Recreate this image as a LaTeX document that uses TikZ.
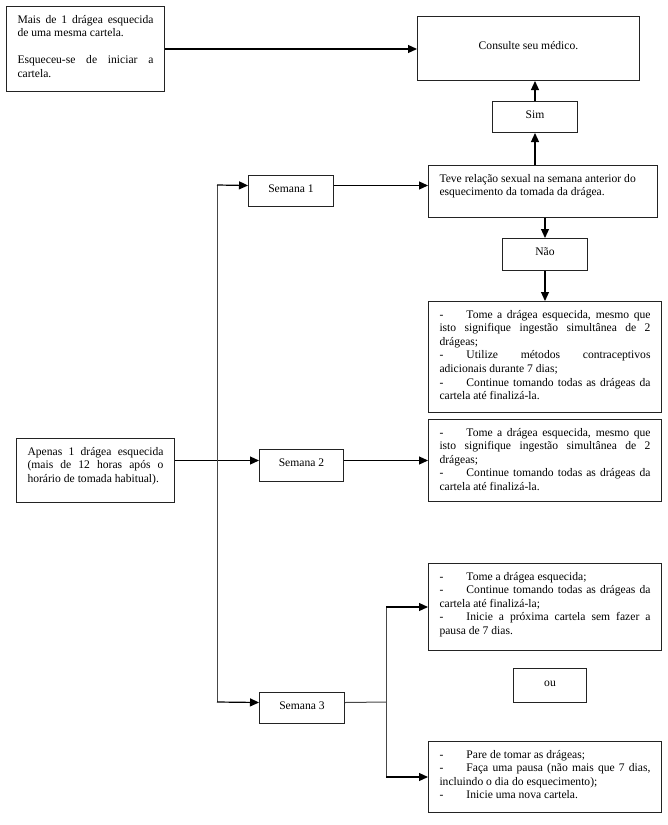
\documentclass[tikz,border=0pt]{standalone}
\usepackage{fontspec}
\setmainfont{Liberation Serif}
\usetikzlibrary{positioning,arrows.meta,calc}
\definecolor{ink}{RGB}{35,35,35}
\definecolor{wireg}{RGB}{70,70,70}
% top-aligned text block of a box: width, height, text
\newcommand{\panel}[3]{\parbox[c][#2pt][t]{#1pt}{\strut #3}}
\newcommand{\itemdash}{\makebox[27pt][l]{-}}

\begin{document}
\begin{tikzpicture}[
  x=1pt, y=-1pt,
  font=\fontsize{11.6}{13.6}\selectfont,
  note/.style={draw=ink, line width=1pt, anchor=north west, inner xsep=11pt, inner ysep=7pt},
  tag/.style={draw=ink, line width=1pt, anchor=north west, inner sep=0pt, text height=8pt, text depth=6pt},
  arr/.style={-{Triangle[length=9pt,width=8pt]}, line width=1.2pt, black},
  wire/.style={line width=1pt, wireg},
]
\useasboundingbox (0,0) rectangle (668,825);

% ---- left column ----
\node[note] (MAIS) at (6,6) {\panel{136}{71}{%
  Mais de 1 drágea esquecida\linebreak de uma mesma cartela.\par
  \strut\par
  Esqueceu-se de iniciar a\linebreak cartela.}};

\node[note] (APENAS) at (16,438) {\panel{136}{50}{%
  Apenas 1 drágea esquecida\linebreak (mais de 12 horas após o\linebreak horário de tomada habitual).}};

% ---- the three weeks ----
\node[tag, minimum width=85pt, minimum height=31pt] (SEM1) at (248,175) {Semana 1};
\node[tag, minimum width=84pt, minimum height=32pt] (SEM2) at (259,449) {Semana 2};
\node[tag, minimum width=85pt, minimum height=31pt] (SEM3) at (259,692) {Semana 3};

% ---- week 1 branch ----
\node[tag, minimum width=222pt, minimum height=64pt] (MEDICO) at (417,16) {Consulte seu médico.};
\node[tag, minimum width=85pt, minimum height=31pt] (SIM) at (492,101) {Sim};
\node[note] (TEVE) at (428,165) {\panel{207}{38}{\raggedright
  Teve relação sexual na semana anterior do esquecimento da tomada da drágea.}};
\node[tag, minimum width=85pt, minimum height=32pt] (NAO) at (502,238) {Não};
\node[note] (TOME1) at (428,301) {\panel{211}{97}{%
  \itemdash Tome a drágea esquecida, mesmo que\linebreak isto signifique ingestão simultânea de 2\linebreak drágeas;\par
  \itemdash Utilize métodos contraceptivos\linebreak adicionais durante 7 dias;\par
  \itemdash Continue tomando todas as drágeas da\linebreak cartela até finalizá-la.}};

% ---- week 2 branch ----
\node[note] (TOME2) at (428,419) {\panel{211}{68}{%
  \itemdash Tome a drágea esquecida, mesmo que\linebreak isto signifique ingestão simultânea de 2\linebreak drágeas;\par
  \itemdash Continue tomando todas as drágeas da\linebreak cartela até finalizá-la.}};

% ---- week 3 branch ----
\node[note] (TOME3) at (428,563) {\panel{211}{73}{%
  \itemdash Tome a drágea esquecida;\par
  \itemdash Continue tomando todas as drágeas da\linebreak cartela até finalizá-la;\par
  \itemdash Inicie a próxima cartela sem fazer a\linebreak pausa de 7 dias.}};
\node[tag, minimum width=73pt, minimum height=34pt] (OU) at (513,668) {ou};
\node[note] (PARE) at (428,741) {\panel{211}{57}{%
  \itemdash Pare de tomar as drágeas;\par
  \itemdash Faça uma pausa (não mais que 7 dias,\linebreak incluindo o dia do esquecimento);\par
  \itemdash Inicie uma nova cartela.}};

\coordinate (TRUNK) at (217,185);
\coordinate (FORK) at (386,702);

% ============ arrows ============
\draw[arr] (MAIS.east) -- (MAIS.east -| MEDICO.west);

\draw[arr] ([yshift=10pt]APENAS.east) -- ([yshift=5pt]SEM2.west);
\draw[wire] (TRUNK) -- (TRUNK |- FORK);
\draw[arr] (TRUNK) -- ([yshift=5.5pt]SEM1.west);
\draw[arr] (TRUNK |- FORK) -- ([yshift=5.5pt]SEM3.west);

% week 1
\draw[arr] ([yshift=5.5pt]SEM1.east) -- ([yshift=5.5pt]SEM1.east -| TEVE.west);
\draw[arr] (SIM.south |- TEVE.north) -- (SIM.south);
\draw[arr] (SIM.north) -- (SIM.north |- MEDICO.south);
\draw[arr] (NAO.north |- TEVE.south) -- (NAO.north);
\draw[arr] (NAO.south) -- (NAO.south |- TOME1.north);

% week 2
\draw[arr] ([yshift=5pt]SEM2.east) -- (TOME2.west);

% week 3
\draw[wire] ([yshift=5.5pt]SEM3.east) -- (FORK);
\draw[wire] (FORK |- TOME3.west) -- (FORK |- PARE.west);
\draw[arr] (FORK |- TOME3.west) -- (TOME3.west);
\draw[arr] (FORK |- PARE.west) -- (PARE.west);

\end{tikzpicture}
\end{document}
